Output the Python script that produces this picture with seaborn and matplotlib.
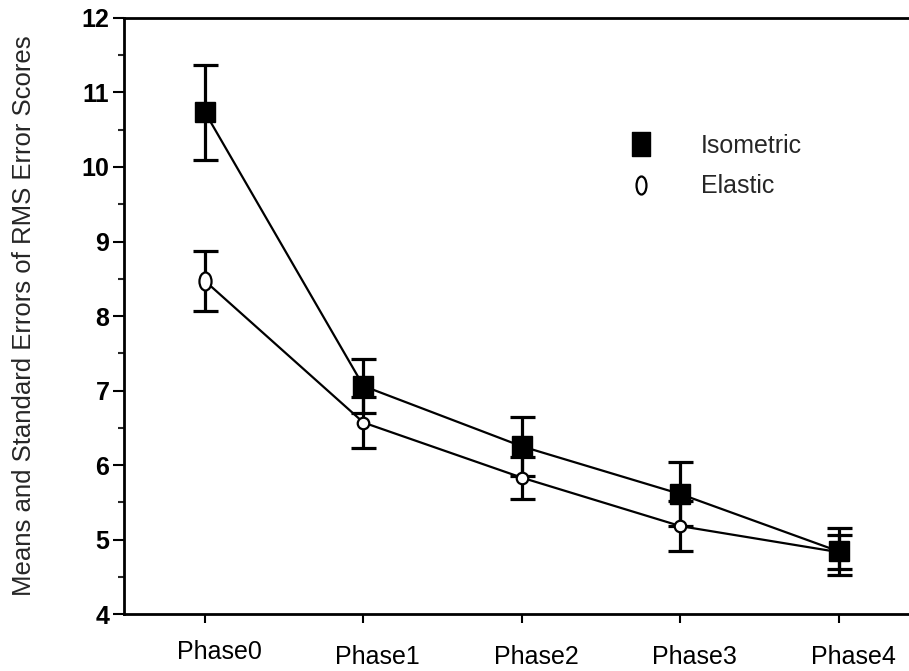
import numpy as np
import pandas as pd
import matplotlib
matplotlib.use("Agg")
import matplotlib.pyplot as plt
import seaborn as sns
from matplotlib.path import Path
from matplotlib.lines import Line2D
from matplotlib.transforms import ScaledTranslation

# ---- data ----
phases = ["Phase0", "Phase1", "Phase2", "Phase3", "Phase4"]
series_names = ["Isometric", "Elastic"]
iso_mean = [10.735, 7.06, 6.25, 5.61, 4.84]
iso_se = [0.635, 0.36, 0.40, 0.43, 0.32]
ela_mean = [8.47, 6.57, 5.83, 5.18, 4.83]
ela_se = [0.40, 0.34, 0.28, 0.34, 0.23]
y_ticks = [4, 5, 6, 7, 8, 9, 10, 11, 12]
y_label = "Means and Standard Errors of RMS Error Scores"

sns.set_style("ticks")
plt.rcParams["font.family"] = ["Liberation Sans", "DejaVu Sans"]

pos = np.arange(len(phases))
df = pd.DataFrame({
    "pos": np.concatenate([pos, pos]),
    "mean": iso_mean + ela_mean,
    "series": [series_names[0]] * len(phases) + [series_names[1]] * len(phases),
})

fig = plt.figure(figsize=(9.09, 6.71), dpi=100)
ax = fig.add_axes([0.1364, 0.0849, 0.8636, 0.8883])

sns.lineplot(data=df, x="pos", y="mean", hue="series",
             palette={series_names[0]: "black", series_names[1]: "black"},
             linewidth=1.6, sort=False, legend=False, ax=ax, zorder=2)

for m, s in ((iso_mean, iso_se), (ela_mean, ela_se)):
    ax.errorbar(pos, m, yerr=s, fmt="none", ecolor="black", elinewidth=2.3,
                capsize=9, capthick=2.3, zorder=3)

# markers
circ = Path.unit_circle()
ell_data = Path(circ.vertices * np.array([0.67, 1.0]), circ.codes)
ell_leg = Path(circ.vertices * np.array([0.55, 1.0]), circ.codes)
rect = Path([(-0.39, -0.5), (0.39, -0.5), (0.39, 0.5), (-0.39, 0.5), (-0.39, -0.5)],
            [Path.MOVETO, Path.LINETO, Path.LINETO, Path.LINETO, Path.CLOSEPOLY])

ax.plot(pos[1:], ela_mean[1:], ls="none", marker="o", ms=8.3, mfc="white",
        mec="black", mew=1.6, zorder=4)
ax.plot(pos[:1], ela_mean[:1], ls="none", marker=ell_data, ms=13, mfc="white",
        mec="black", mew=1.6, zorder=4)
ax.plot(pos, iso_mean, ls="none", marker="s", ms=14.5, color="black", zorder=5)

# axes
ax.set_xlim(-0.511, 4.442)
ax.set_ylim(4, 12)
ax.set_xticks(pos)
ax.set_xticklabels(phases)
ax.set_yticks(y_ticks)
ax.set_yticks(np.arange(4.5, 12, 1.0), minor=True)
ax.set_xlabel("")
ax.set_ylabel(y_label, fontsize=18.5)
ax.yaxis.set_label_coords(-0.112, 0.5)

for sp in ("left", "bottom", "top"):
    ax.spines[sp].set_linewidth(2)
    ax.spines[sp].set_color("black")
ax.spines["right"].set_visible(False)

ax.tick_params(axis="y", which="major", length=8, width=1.5, direction="out",
               labelsize=18, pad=2.5, colors="black")
ax.tick_params(axis="y", which="minor", length=4.3, width=1.5, direction="out")
ax.tick_params(axis="x", which="major", length=6.5, width=1.5, direction="out",
               labelsize=18, pad=12, colors="black")
for lab in ax.get_yticklabels():
    lab.set_fontweight("bold")
for i, lab in enumerate(ax.get_xticklabels()):
    dy = 0.0 if i == 0 else -0.05
    lab.set_transform(lab.get_transform() + ScaledTranslation(0.14, dy, fig.dpi_scale_trans))

# legend
h1 = Line2D([], [], ls="none", marker=rect, ms=16.6, color="black")
h2 = Line2D([], [], ls="none", marker=ell_leg, ms=13, mfc="white", mec="black", mew=1.6)
ax.legend([h1, h2], series_names, loc="upper left", bbox_to_anchor=(0.6427, 0.805),
          frameon=False, fontsize=18, handlelength=1.0, handletextpad=1.9,
          labelspacing=0.65, borderpad=0, borderaxespad=0)

fig.savefig("out.png", dpi=100)
